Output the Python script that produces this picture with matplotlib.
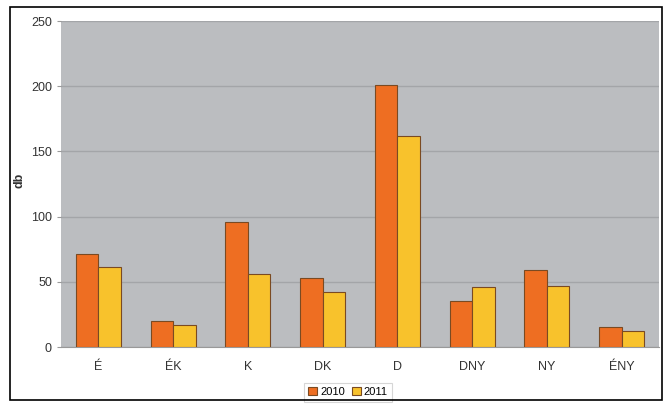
import matplotlib
matplotlib.use("Agg")
import matplotlib.pyplot as plt
import numpy as np
from matplotlib.patches import Rectangle

categories = ["É", "ÉK", "K", "DK", "D", "DNY", "NY", "ÉNY"]
series_names = ["2010", "2011"]
values_2010 = [71, 20, 96, 53, 201, 35, 59, 15]
values_2011 = [61, 17, 56, 42, 162, 46, 47, 12]
yticks = [0, 50, 100, 150, 200, 250]

plt.rcParams['font.family'] = ['Liberation Sans', 'DejaVu Sans']

fig = plt.figure(figsize=(6.70, 4.07), dpi=100)
fig.patch.set_facecolor("white")
fig.add_artist(Rectangle((10/670, 7/407), 652/670, 393/407, transform=fig.transFigure,
                         fill=False, edgecolor="black", linewidth=1.2))

ax = fig.add_axes([61/670, 1-347/407, 598/670, 326/407])
ax.set_facecolor("#BBBDC0")
x = np.arange(len(categories))
w = 0.3
ax.bar(x - w/2, values_2010, w, color="#EE6E22", edgecolor="#7A4A22", linewidth=0.8, label=series_names[0], zorder=3)
ax.bar(x + w/2, values_2011, w, color="#F8C22C", edgecolor="#7A4A22", linewidth=0.8, label=series_names[1], zorder=3)

ax.set_xlim(-0.5, len(categories) - 0.5)
ax.set_ylim(0, 250)
ax.set_yticks(yticks)
ax.yaxis.grid(True, color="#A3A5A8", linewidth=1.0, zorder=0)
ax.set_xticks(x)
ax.set_xticklabels(categories, fontsize=9, color="#333333")
ax.tick_params(axis="y", labelsize=9, colors="#333333", length=3, color="#999999")
ax.tick_params(axis="x", length=0, pad=10)
for s in ["top", "right", "left"]:
    ax.spines[s].set_visible(False)
ax.spines["bottom"].set_color("#999999")
ax.set_ylabel("db", fontsize=9, fontweight="bold", color="#333333")
ax.yaxis.set_label_coords(-0.059, 0.51)

leg = ax.legend(loc="center", bbox_to_anchor=(348/670, 1-392/407), bbox_transform=fig.transFigure,
                ncol=2, fontsize=8, frameon=True, fancybox=False, handlelength=0.8, handleheight=0.8,
                handletextpad=0.3, columnspacing=0.6, borderpad=0.4)
leg.get_frame().set_edgecolor("#CCCCCC")
leg.get_frame().set_linewidth(0.8)

fig.savefig("out.png", dpi=100)
